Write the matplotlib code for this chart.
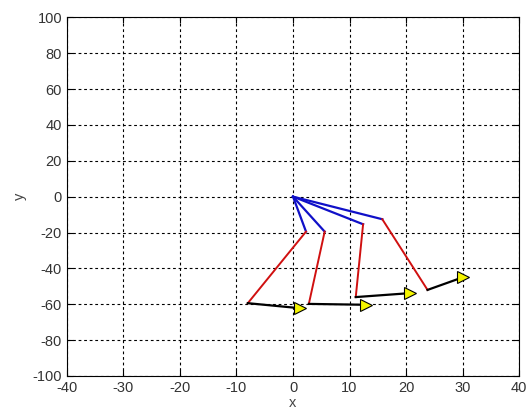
import matplotlib
matplotlib.use("Agg")
import matplotlib.pyplot as plt

plt.rcParams['font.family'] = ['Liberation Sans', 'DejaVu Sans']
plt.rcParams['axes.unicode_minus'] = False

hip_x = [0, 0, 0, 0]
hip_y = [0, 0, 0, 0]
knee_x = [2.3, 5.6, 12.4, 15.8]
knee_y = [-19.5, -19.5, -15.4, -12.6]
ankle_x = [-8.0, 2.8, 11.1, 23.8]
ankle_y = [-59.4, -59.8, -56.0, -52.0]
toe_x = [1.2, 13.0, 20.7, 30.1]
toe_y = [-62.2, -60.3, -53.8, -44.9]

xticks = list(range(-40, 41, 10))
yticks = list(range(-100, 101, 20))

fig = plt.figure(figsize=(5.27, 4.09), dpi=100)
ax = fig.add_axes([0.127, 0.0807, 0.858, 0.877])

for i in range(4):
    ax.plot([hip_x[i], knee_x[i]], [hip_y[i], knee_y[i]], color='#1010c8', lw=1.6, zorder=3)
    ax.plot([knee_x[i], ankle_x[i]], [knee_y[i], ankle_y[i]], color='#d01010', lw=1.4, zorder=3)
    ax.plot([ankle_x[i], toe_x[i]], [ankle_y[i], toe_y[i]], color='black', lw=1.6, zorder=3)
    ax.plot([toe_x[i]], [toe_y[i]], marker='>', ms=8, mfc='#f5f500', mec='black', mew=0.8, zorder=4)

ax.set_xlim(-40, 40)
ax.set_ylim(-100, 100)
ax.set_xticks(xticks)
ax.set_yticks(yticks)
ax.grid(True, color='black', linestyle=(0, (2.5, 2.5)), linewidth=0.8)
ax.tick_params(direction='in', labelsize=10.5, length=4, top=True, right=True, colors='black')
ax.tick_params(labelcolor='#333333')
for s in ax.spines.values():
    s.set_linewidth(0.8)
ax.set_xlabel('x', fontsize=10.5, color='#444444', labelpad=1)
ax.set_ylabel('y', fontsize=10.5, color='#444444', labelpad=4)

fig.savefig('out.png', dpi=100)
